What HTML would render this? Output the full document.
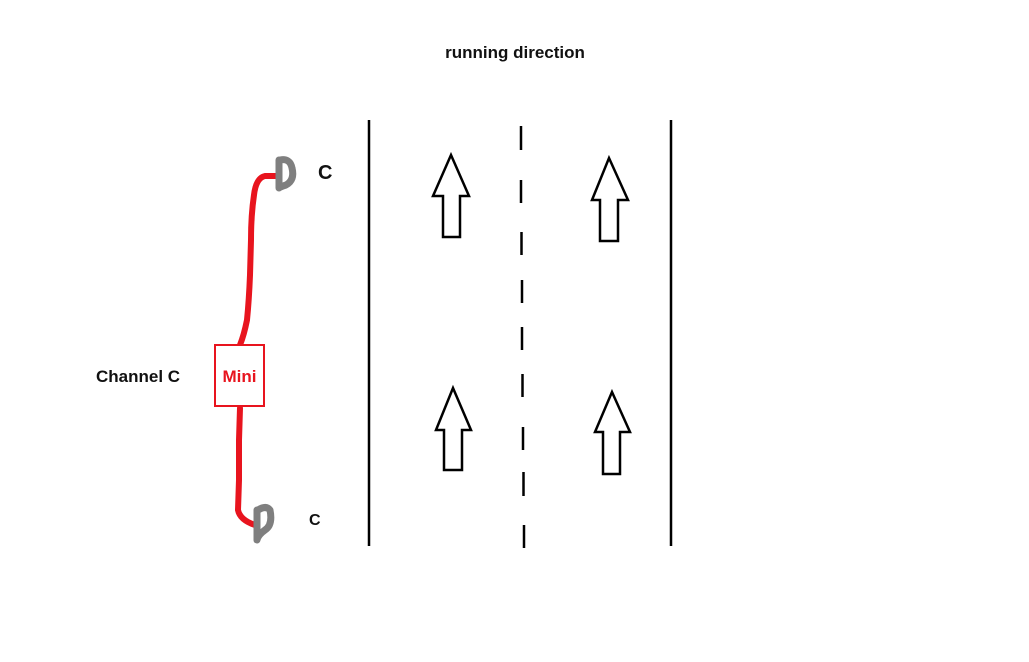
<!DOCTYPE html>
<html><head><style>
html,body{margin:0;padding:0;background:#fff;}
svg{display:block;}
text{font-family:"Liberation Sans",sans-serif;font-weight:bold;}
</style></head><body>
<svg width="1029" height="662" viewBox="0 0 1029 662" xmlns="http://www.w3.org/2000/svg">
<text x="515" y="58" font-size="17" text-anchor="middle" fill="#111">running direction</text>
<line x1="369" y1="120" x2="369" y2="546" stroke="#000" stroke-width="2.5"/>
<line x1="671" y1="120" x2="671" y2="546" stroke="#000" stroke-width="2.5"/>
<g stroke="#000" stroke-width="2.5">
<line x1="521" y1="126" x2="521" y2="150"/>
<line x1="521" y1="180" x2="521" y2="203"/>
<line x1="521.5" y1="232" x2="521.5" y2="255"/>
<line x1="522" y1="280" x2="522" y2="303"/>
<line x1="522" y1="327" x2="522" y2="350"/>
<line x1="522.5" y1="374" x2="522.5" y2="397"/>
<line x1="523" y1="427" x2="523" y2="450"/>
<line x1="523.5" y1="472" x2="523.5" y2="496"/>
<line x1="524" y1="525" x2="524" y2="548"/>
</g>
<g fill="#fff" stroke="#000" stroke-width="2.5" stroke-linejoin="miter">
<polygon points="451,155 469,196 460,196 460,237 443,237 443,196 433,196"/>
<polygon points="609,158 628,200 618,200 618,241 600,241 600,200 592,200"/>
<polygon points="453,388 471,430 462,430 462,470 444,470 444,430 436,430"/>
<polygon points="612,392 630,432 620,432 620,474 603,474 603,432 595,432"/>
</g>
<path d="M276,176 L265,176 Q256,178 254,195 Q251,215 251,240 L250,275 Q249,300 247,320 Q244,335 240,345" fill="none" stroke="#e8141e" stroke-width="6" stroke-linecap="round"/>
<path d="M240,408 L239,440 L239,480 L238,510 Q240,520 255,525" fill="none" stroke="#e8141e" stroke-width="6" stroke-linecap="round"/>
<path d="M280,160 Q290,158 292,168 Q295,180 286,185 Q280,187 279,188 L279,160" fill="none" stroke="#7f7f7f" stroke-width="7" stroke-linejoin="round" stroke-linecap="round"/>
<path d="M258,510 Q266,505 270,510 Q273,525 265,530 Q258,535 257,540 L257,510" fill="none" stroke="#7f7f7f" stroke-width="7" stroke-linejoin="round" stroke-linecap="round"/>
<rect x="215" y="345" width="49" height="61" fill="#fff" stroke="#e8141e" stroke-width="2"/>
<text x="239.5" y="382" font-size="17" text-anchor="middle" fill="#e8141e">Mini</text>
<text x="96" y="382" font-size="17" fill="#111">Channel C</text>
<text x="318" y="179" font-size="20" fill="#111">C</text>
<text x="309" y="525" font-size="16" fill="#111">C</text>
</svg>
</body></html>
